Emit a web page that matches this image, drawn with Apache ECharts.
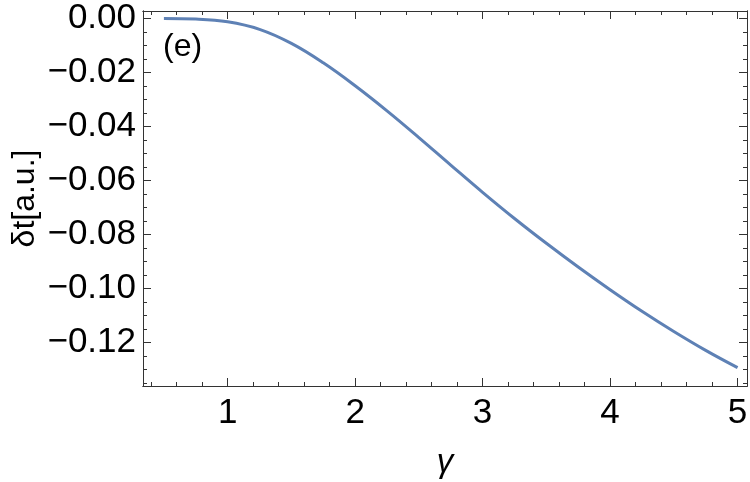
<!DOCTYPE html>
<html>
<head>
<meta charset="utf-8">
<script src="https://cdn.jsdelivr.net/npm/echarts@6/dist/echarts.min.js"></script>
<style>
html, body { margin: 0; padding: 0; background: #fff; }
#container { width: 750px; height: 482px; }
</style>
</head>
<body>
<div id="container"></div>
<script>
var gammaValues = [0.5, 0.75, 1.0, 1.25, 1.5, 1.75, 2.0, 2.25, 2.5, 2.75, 3.0, 3.25, 3.5, 3.75, 4.0, 4.25, 4.5, 4.75, 5.0];
var deltaT = [0, -0.0002, -0.0012, -0.0040, -0.0092, -0.0164, -0.0249, -0.0342, -0.0441, -0.0543, -0.0644, -0.0741, -0.0833, -0.0921, -0.1005, -0.1085, -0.1160, -0.1230, -0.1294];
var xTicks = [1, 2, 3, 4, 5];
var yTicks = [0, -0.02, -0.04, -0.06, -0.08, -0.10, -0.12];
var xMinor = [0.4, 0.6, 0.8, 1.2, 1.4, 1.6, 1.8, 2.2, 2.4, 2.6, 2.8, 3.2, 3.4, 3.6, 3.8, 4.2, 4.4, 4.6, 4.8, 5.0];
var yMinor = [-0.005, -0.01, -0.015, -0.025, -0.03, -0.035, -0.045, -0.05, -0.055, -0.065, -0.07, -0.075, -0.085, -0.09, -0.095, -0.105, -0.11, -0.115, -0.125, -0.13, -0.135];

var xMin = 0.336, xMax = 5.074;
var yMin = -0.1362, yMax = 0.0028;

var frameColor = '#333';
var font = 'Liberation Sans, Arial, sans-serif';

var dom = document.getElementById("container");
var myChart = echarts.init(dom);

function frameAxis(pos, ticks, len, extra) {
    var isX = pos === 'bottom' || pos === 'top';
    var ax = {
        type: 'value',
        position: pos,
        min: isX ? xMin : yMin,
        max: isX ? xMax : yMax,
        axisLine: {show: true, onZero: false, lineStyle: {color: frameColor, width: 1}},
        axisTick: {show: true, inside: true, length: len, customValues: ticks, lineStyle: {color: frameColor, width: 1}},
        axisLabel: {show: false},
        splitLine: {show: false}
    };
    return Object.assign(ax, extra || {});
}

var xLabelAxis = frameAxis('bottom', xTicks, 8, {
    axisLabel: {show: true, customValues: xTicks, fontSize: 35, color: '#000', fontFamily: font, margin: 10},
    name: 'γ',
    nameLocation: 'middle',
    nameGap: 60,
    nameMoveOverlap: false,
    nameTextStyle: {fontSize: 33, fontStyle: 'italic', color: '#000', fontFamily: font}
});

var yLabelAxis = frameAxis('left', yTicks, 8, {
    axisLabel: {
        show: true, customValues: yTicks, fontSize: 35, color: '#000', fontFamily: font, margin: 7,
        formatter: function (v) {
            var s = Math.abs(v).toFixed(2);
            return v < 0 ? '\u2212' + s : s;
        }
    },
    name: 'δt[a.u.]',
    nameLocation: 'middle',
    nameRotate: 90,
    nameGap: 102,
    nameMoveOverlap: false,
    nameTextStyle: {fontSize: 32, color: '#000', fontFamily: font}
});

option = {
    animation: false,
    title: {
        text: '(e)',
        left: 163,
        top: 31,
        padding: 0,
        textStyle: {fontSize: 32, fontWeight: 'normal', color: '#000', fontFamily: font}
    },
    grid: {left: 143, right: 3, top: 11, bottom: 96, outerBoundsMode: 'none'},
    xAxis: [
        xLabelAxis,
        frameAxis('bottom', xMinor, 4),
        frameAxis('top', xTicks, 8),
        frameAxis('top', xMinor, 4)
    ],
    yAxis: [
        yLabelAxis,
        frameAxis('left', yMinor, 4),
        frameAxis('right', yTicks, 8),
        frameAxis('right', yMinor, 4)
    ],
    series: [
        {
            type: 'line',
            xAxisIndex: 0,
            yAxisIndex: 0,
            data: gammaValues.map(function (g, i) { return [g, deltaT[i]]; }),
            smooth: 0.4,
            showSymbol: false,
            lineStyle: {color: '#5E81B5', width: 3}
        }
    ]
};
if (option && typeof option === "object") {
    myChart.setOption(option, true);
}
</script>
</body>
</html>
